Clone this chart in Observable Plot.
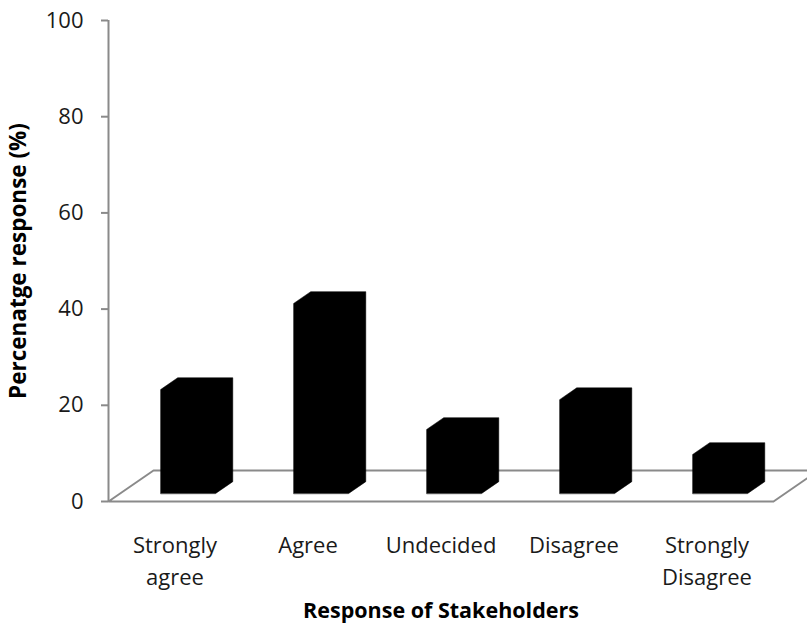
<!DOCTYPE html>
<html>
<head>
<meta charset="utf-8">
<script src="https://cdn.jsdelivr.net/npm/d3@7"></script>
<script src="https://cdn.jsdelivr.net/npm/@observablehq/plot@0.6"></script>
<style>
  html, body { margin: 0; padding: 0; background: #fff; }
  #chart { width: 807px; height: 626px; overflow: hidden; }
</style>
</head>
<body>
<div id="chart"></div>
<script>
// ---- data ----
const categories = ["Strongly agree", "Agree", "Undecided", "Disagree", "Strongly Disagree"];
const tickLabels = ["Strongly\nagree", "Agree", "Undecided", "Disagree", "Strongly\nDisagree"];
const values = [21.6, 39.5, 13.3, 19.5, 8.1];
const yTicks = [0, 20, 40, 60, 80, 100];
const yTitle = "Percenatge response (%)";
const xTitle = "Response of Stakeholders";

// ---- oblique 3D geometry (in scale units) ----
const DX = 45 / 133;   // depth shift along x per unit depth (category units)
const DY = 6.45;       // depth shift along y per unit depth (value units)
const D_FRONT = 0.26, D_BACK = 0.64;
const B_LEFT = 0.304, B_RIGHT = 0.718;
const proj = (x, y, d) => ({x: x + d * DX, y: y + d * DY});

const barVerts = [];
categories.forEach((c, i) => {
  const v = values[i];
  const pts = [
    proj(i + B_LEFT, 0, D_FRONT),
    proj(i + B_LEFT, v, D_FRONT),
    proj(i + B_LEFT, v, D_BACK),
    proj(i + B_RIGHT, v, D_BACK),
    proj(i + B_RIGHT, 0, D_BACK),
    proj(i + B_RIGHT, 0, D_FRONT)
  ];
  pts.forEach(p => barVerts.push({...p, cat: c}));
});

const n = categories.length;
const floorVerts = [proj(0, 0, 0), proj(n, 0, 0), proj(n, 0, 1), proj(0, 0, 1)];
const labelData = tickLabels.map((t, i) => ({x: i + 0.5, label: t}));

const FONT = "'Open Sans', 'Noto Sans', sans-serif";
const grey = "#8a8a8a";

const chart = Plot.plot({
  width: 807,
  height: 626,
  marginLeft: 108,
  marginRight: 34,
  marginTop: 20,
  marginBottom: 125,
  style: {fontFamily: FONT, fontSize: "22px", color: "#1a1a1a", background: "#fff", overflow: "hidden"},
  x: {domain: [0, n], axis: null},
  y: {domain: [0, 100], axis: null},
  marks: [
    Plot.line(floorVerts, {x: "x", y: "y", stroke: grey, strokeWidth: 2, curve: "linear-closed"}),
    Plot.ruleX([0], {y1: 0, y2: 100, stroke: grey, strokeWidth: 2}),
    Plot.axisY(yTicks, {
      ticks: yTicks, tickSize: 7, tickPadding: 18, stroke: grey, strokeWidth: 2,
      fontSize: 22, fill: "#1a1a1a", label: null, tickFormat: d => String(d)
    }),
    Plot.line(barVerts, {x: "x", y: "y", z: "cat", fill: "#000", stroke: "#000", strokeWidth: 0.5, curve: "linear-closed"}),
    Plot.text(labelData, {
      x: "x", y: () => 0, text: "label", lineAnchor: "top", dy: 29, lineHeight: 1.45,
      fontSize: 22, fill: "#1a1a1a"
    }),
    Plot.text([yTitle], {
      frameAnchor: "left", y: () => 50, dx: -90, rotate: -90, text: d => d,
      fontWeight: "bold", fontSize: 22.5, fill: "#000", textAnchor: "middle"
    }),
    Plot.text([xTitle], {
      frameAnchor: "bottom", x: () => n / 2, dy: 110, text: d => d,
      fontWeight: "bold", fontSize: 21.5, fill: "#000", lineAnchor: "middle"
    })
  ]
});
document.getElementById("chart").appendChild(chart);
</script>
</body>
</html>
